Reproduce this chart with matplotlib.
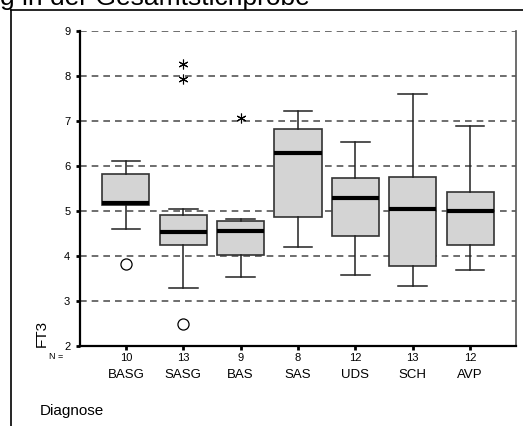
import matplotlib.pyplot as plt
from matplotlib.lines import Line2D

plt.rcParams['font.family'] = ['Liberation Sans', 'DejaVu Sans']

### Data
groups = ["BASG", "SASG", "BAS", "SAS", "UDS", "SCH", "AVP"]
n_cases = [10, 13, 9, 8, 12, 13, 12]
whisk_lo = [4.61, 3.30, 3.53, 4.19, 3.58, 3.34, 3.70]
q1 = [5.13, 4.25, 4.02, 4.86, 4.44, 3.78, 4.24]
median = [5.18, 4.53, 4.56, 6.30, 5.28, 5.04, 4.99]
q3 = [5.83, 4.90, 4.78, 6.83, 5.73, 5.76, 5.42]
whisk_hi = [6.12, 5.04, 4.82, 7.22, 6.54, 7.59, 6.90]
# outliers (circles) and extremes (asterisks)
outliers = [[3.82], [2.48], [], [], [], [], []]
extremes = [[], [8.27, 7.93], [7.07], [], [], [], []]

### Figure
fig = plt.figure(figsize=(5.23, 4.26), dpi=100)
ax = fig.add_axes([80 / 523, 80 / 426, 436 / 523, 315 / 426])

stats = []
for i, g in enumerate(groups):
    stats.append(dict(label=g, whislo=whisk_lo[i], q1=q1[i], med=median[i],
                      q3=q3[i], whishi=whisk_hi[i], fliers=[]))

pos = list(range(1, len(groups) + 1))
ax.bxp(stats, positions=pos, widths=0.82, patch_artist=True, showfliers=False,
       boxprops=dict(facecolor="#d4d4d4", edgecolor="#333333", linewidth=1.2),
       medianprops=dict(color="black", linewidth=3),
       whiskerprops=dict(color="#222222", linewidth=1.1),
       capprops=dict(color="#222222", linewidth=1.1),
       capwidths=0.5, zorder=3)

for i, p in enumerate(pos):
    for v in outliers[i]:
        ax.plot(p, v, marker="o", markersize=8, markerfacecolor="none",
                markeredgecolor="black", markeredgewidth=0.9, zorder=4)
    for v in extremes[i]:
        ax.plot(p, v, marker=(6, 2, 0), markersize=7, color="black",
                markeredgewidth=0.8, zorder=4)

# dashed reference lines
for yv in range(3, 10):
    ax.axhline(yv, color="#555555", linestyle=(0, (4, 3)), linewidth=1.2, zorder=1)

ax.set_xlim(0.2, 7.8)
ax.set_ylim(2, 9)
ax.set_yticks(range(2, 10))
ax.set_xticks(pos)
ax.set_xticklabels([str(n) for n in n_cases])
ax.tick_params(axis="both", length=3, width=2, labelsize=8, pad=4)
ax.tick_params(axis="x", pad=2)

ax.spines["top"].set_visible(False)
ax.spines["left"].set_linewidth(1.6)
ax.spines["bottom"].set_linewidth(1.6)
ax.spines["right"].set_color("#555555")
ax.spines["right"].set_linewidth(1.2)

# group names under the N row
for p, g in zip(pos, groups):
    ax.annotate(g, xy=(p, 0), xycoords=("data", "axes fraction"),
                xytext=(0, -21), textcoords="offset points",
                ha="center", va="center", fontsize=9.5)
ax.annotate("N =", xy=(0, 0), xycoords="axes fraction", xytext=(-12, -7.5),
            textcoords="offset points", ha="right", va="center", fontsize=6.5)

fig.text(42 / 523, 1 - 333 / 426, "FT3", rotation=90, ha="center", va="center",
         fontsize=11)
fig.text(40 / 523, 1 - 411 / 426, "Diagnose", ha="left", va="center", fontsize=11)

# outer frame and cut-off title
fig.add_artist(Line2D([11 / 523, 11 / 523], [0, 1 - 10 / 426], color="black",
                      linewidth=1.2, transform=fig.transFigure))
fig.add_artist(Line2D([11 / 523, 1], [1 - 10 / 426, 1 - 10 / 426], color="black",
                      linewidth=1.2, transform=fig.transFigure))
fig.text(0, 1 - 5 / 426, "g in der Gesamtstichprobe", ha="left", va="baseline",
         fontsize=19)

fig.savefig("out.png", dpi=100)
